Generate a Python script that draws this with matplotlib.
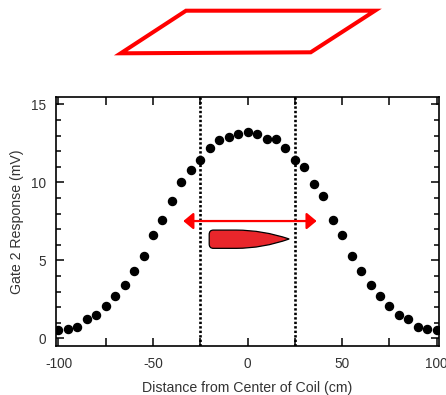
import numpy as np
import matplotlib
matplotlib.use("Agg")
from matplotlib import pyplot as plt
from matplotlib.path import Path
from matplotlib.patches import PathPatch, Polygon
from matplotlib.ticker import MultipleLocator, FuncFormatter

# measured response vs. distance
distance = [-100, -95, -90, -85, -80, -75, -70, -65, -60, -55,
            -50, -45, -40, -35, -30, -25, -20, -15, -10, -5,
            0, 5, 10, 15, 20, 25, 30, 35, 40, 45,
            50, 55, 60, 65, 70, 75, 80, 85, 90, 95, 100]
response = [0.55, 0.62, 0.72, 1.24, 1.49, 2.07, 2.73, 3.42, 4.33, 5.28,
            6.6, 7.58, 8.8, 10.0, 10.8, 11.43, 12.22, 12.71, 12.88, 13.1,
            13.2, 13.1, 12.76, 12.76, 12.22, 11.43, 11.0, 9.9, 9.12, 7.58,
            6.62, 5.28, 4.33, 3.42, 2.73, 2.07, 1.49, 1.24, 0.72, 0.62, 0.55]
coil_edges = [-25, 25]
arrow_span = [-34, 36.5]
arrow_level = 7.52

TEXT = '#333333'
plt.rcParams['font.family'] = ['Liberation Sans', 'DejaVu Sans']

fig = plt.figure(figsize=(4.46, 3.95), dpi=100)
ax = fig.add_axes([56 / 446, 1 - 345.7 / 395, (439 - 56) / 446, (345.7 - 97) / 395])

ax.plot(distance, response, 'o', color='black', markersize=5.8, zorder=3)

for xe in coil_edges:
    ax.axvline(xe, color='black', linewidth=1.9, dashes=(0.9, 0.8), zorder=2)

# double-headed red arrow
ax.annotate('', xy=(arrow_span[1], arrow_level), xytext=(arrow_span[0], arrow_level),
            arrowprops=dict(arrowstyle='<|-|>,head_length=0.6,head_width=0.5',
                            color='#ff0000', lw=1.6, mutation_scale=10,
                            shrinkA=0, shrinkB=0), zorder=4)

# red bullet shape (in data coords)
x0, xm, xt = -20.3, -6.0, 22.0
yt, yb, yc = 6.94, 5.77, 6.37
rx, ry = 2.2, 0.28
verts = [(x0 + rx, yt), (xm, yt),
         (xt - 14, yt), (xt, yc),
         (xt - 14, yb), (xm, yb),
         (x0 + rx, yb),
         (x0, yb), (x0, yb + ry),
         (x0, yt - ry),
         (x0, yt), (x0 + rx, yt),
         (x0 + rx, yt)]
codes = [Path.MOVETO, Path.LINETO,
         Path.CURVE3, Path.CURVE3,
         Path.CURVE3, Path.CURVE3,
         Path.LINETO,
         Path.CURVE3, Path.CURVE3,
         Path.LINETO,
         Path.CURVE3, Path.CURVE3,
         Path.CLOSEPOLY]
ax.add_patch(PathPatch(Path(verts, codes), facecolor='#e8262b', edgecolor='black',
                       linewidth=0.9, zorder=5))

ax.set_xlim(-101.3, 101.2)
ax.set_ylim(-0.47, 15.47)
ax.xaxis.set_major_locator(MultipleLocator(25))
ax.xaxis.set_major_formatter(FuncFormatter(lambda v, p: '%d' % v if v % 50 == 0 else ''))
ax.yaxis.set_major_locator(MultipleLocator(5))
ax.yaxis.set_minor_locator(MultipleLocator(1))
ax.tick_params(which='both', direction='in', top=True, right=True, colors='black',
               labelcolor=TEXT, labelsize=9.8, width=1.1)
ax.tick_params(which='major', length=6)
ax.tick_params(axis='x', which='major', pad=8)
ax.tick_params(axis='y', which='major', pad=7)
ax.tick_params(which='minor', length=3.5)
for s in ax.spines.values():
    s.set_linewidth(1.2)

ax.set_xlabel('Distance from Center of Coil (cm)', color=TEXT, fontsize=10.2, labelpad=7)
ax.set_ylabel('Gate 2 Response (mV)', color=TEXT, fontsize=10.2, labelpad=5)

# coil outline above the chart
coil = [(186, 10.7), (375, 10.7), (310.7, 52.3), (120.7, 53.3)]
fig.patches.append(Polygon([(px / 446, 1 - py / 395) for px, py in coil], closed=True,
                           fill=False, edgecolor='#ff0000', linewidth=2.9,
                           joinstyle='miter', transform=fig.transFigure))

fig.savefig('out.png', dpi=100)
